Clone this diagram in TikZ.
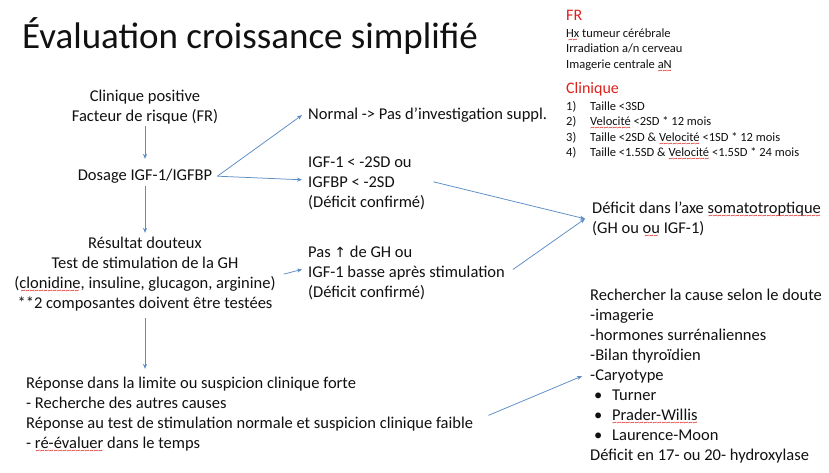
\documentclass[tikz,border=0pt]{standalone}
\usepackage{fontspec}
\setmainfont{Carlito}
\newfontfamily\arrowfont{DejaVu Sans}
\usepackage{xcolor}
\usetikzlibrary{arrows.meta,calc}
\definecolor{ink}{HTML}{111111}
\definecolor{lead}{HTML}{5B8CC4}
\definecolor{flag}{HTML}{E0201B}
\definecolor{squig}{HTML}{E0201B}
\newcommand{\bodyfont}{\fontsize{16.5}{20}\selectfont}
\newcommand{\notefont}{\fontsize{12.5}{15.5}\selectfont}
\newcommand{\headfont}{\fontsize{16}{18}\selectfont}
% red wavy mark of the spell checker
\newsavebox{\spellbox}
\newcommand{\spell}[1]{\sbox{\spellbox}{#1}\rlap{\lower5.2pt\hbox to\wd\spellbox{\color{squig}\fontsize{9}{9}\selectfont\cleaders\hbox{\char"7E}\hfill}}\usebox{\spellbox}}

\begin{document}
\begin{tikzpicture}[x=1pt,y=-1pt,>={Stealth[length=5pt,width=4pt]},
  txt/.style={inner sep=0pt,font=\bodyfont,text=ink},
  aside/.style={inner sep=0pt,font=\notefont,text=ink},
  go/.style={->,draw=lead,line width=0.75pt}]
\useasboundingbox[fill=white] (0,0) rectangle (829,472);
% title
\node[inner sep=0pt,font=\fontsize{37}{40}\selectfont,text=ink,anchor=base west] (title) at (22,48) {Évaluation croissance simplifié};
% risk factors and clinical signs, top right (base = last line)
\node[aside,anchor=base west,font=\headfont,text=flag] (fr) at (566,20) {FR};
\node[aside,anchor=base west,align=left] (frlist) at (566,68) {\spell{Hx} tumeur cérébrale\\Irradiation a/n cerveau\\Imagerie centrale \spell{aN}};
\node[aside,anchor=base west,font=\headfont,text=flag] (clin) at (566,93) {Clinique};
\node[aside,anchor=base west,align=left] (clinlist) at (566,156.5) {\makebox[24pt][l]{1)}Taille <3SD\\\makebox[24pt][l]{2)}\spell{Velocité} <2SD * 12 mois\\\makebox[24pt][l]{3)}Taille <2SD \& \spell{Velocité} <1SD * 12 mois\\\makebox[24pt][l]{4)}Taille <1.5SD \& \spell{Velocité} <1.5SD * 24 mois};
% main column
\node[txt,align=center,anchor=base] (pos) at (145,121.5) {Clinique positive\\Facteur de risque (FR)};
\node[txt,anchor=base] (dos) at (145,180.5) {Dosage IGF-1/IGFBP};
\node[txt,align=center,anchor=base] (stim) at (145,308.5) {Résultat douteux\\Test de stimulation de la GH\\(\spell{clonidine}, insuline, glucagon, arginine)\\**2 composantes doivent être testées};
\node[txt,align=left,anchor=base west] (rep) at (26,448.5) {Réponse dans la limite ou suspicion clinique forte\\- Recherche des autres causes\\Réponse au test de stimulation normale et suspicion clinique faible\\- \spell{ré-évaluer} dans le temps};
% outcomes
\node[txt,anchor=base west] (norm) at (308,119.5) {Normal -> Pas d’investigation suppl.};
\node[txt,align=left,anchor=base west] (low) at (308,207.5) {IGF-1 < -2SD ou\\IGFBP < -2SD\\(Déficit confirmé)};
\node[txt,align=left,anchor=base west] (pas) at (308,297.5) {Pas {\arrowfont\fontsize{14}{20}\selectfont ↑} de GH ou\\IGF-1 basse après stimulation\\(Déficit confirmé)};
\node[txt,align=left,anchor=base west] (def) at (592,233.5) {Déficit dans l’axe \spell{somatotroptique}\\(GH ou \spell{ou} IGF-1)};
\node[txt,align=left,anchor=base west] (cause) at (590,460.5) {Rechercher la cause selon le doute\\-imagerie\\-hormones surrénaliennes\\-Bilan thyroïdien\\-Caryotype\\\makebox[22pt][l]{\hspace{4pt}•}Turner\\\makebox[22pt][l]{\hspace{4pt}•}\spell{Prader-Willis}\\\makebox[22pt][l]{\hspace{4pt}•}Laurence-Moon\\Déficit en 17- ou 20- hydroxylase};
% arrows
\draw[go] ([yshift=-2pt]pos.south -| dos) -- ([yshift=10pt]dos.north);
\draw[go] ([yshift=-2.5pt]dos.south) -- ([yshift=4pt]dos.south |- stim.north);
\draw[go] ([yshift=-7pt]stim.south -| dos) -- ([yshift=8pt]rep.north -| dos);
\draw[go] ([xshift=5pt]dos.east) -- ([xshift=-6pt]norm.west);
\draw[go] ([xshift=5pt]dos.east) -- ([xshift=-6pt,yshift=3.5pt]low.west);
\draw[go] ([xshift=8pt]stim.east) -- ([xshift=-6pt,yshift=3.5pt]pas.west);
\draw[go] ([xshift=8pt,yshift=1.5pt]low.east) -- ([xshift=-7pt,yshift=1.5pt]def.west);
\draw[go] ([xshift=8pt,yshift=3.5pt]pas.east) -- ([xshift=-7pt,yshift=1.5pt]def.west);
\draw[go] ([xshift=15pt]rep.east) -- ([xshift=-8pt]cause.west);
\end{tikzpicture}
\end{document}
